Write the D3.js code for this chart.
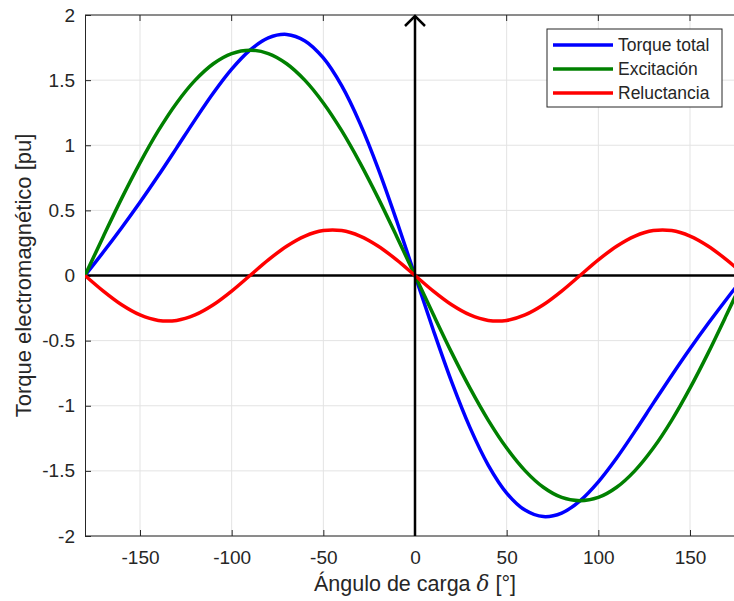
<!DOCTYPE html>
<html lang="es">
<head>
<meta charset="utf-8">
<title>Torque electromagnético</title>
<script src="https://cdn.jsdelivr.net/npm/d3@7"></script>
<style>
  body { margin: 0; background: #fff; }
  svg text { font-family: Arial, "Liberation Sans", Helvetica, sans-serif; fill: #262626; }
  .grid line { stroke: #e3e3e3; stroke-width: 1; }
</style>
</head>
<body>
<script>
// load angle (degrees), read every 10 degrees
var delta = [-180,-170,-160,-150,-140,-130,-120,-110,-100,-90,-80,-70,-60,-50,-40,-30,-20,-10,
             0,10,20,30,40,50,60,70,80,90,100,110,120,130,140,150,160,170,180];

var totalTorque = [0,0.180,0.367,0.562,0.767,0.980,1.195,1.401,1.584,1.730,1.824,1.851,1.801,1.670,1.457,1.168,0.817,0.420,
                   0,-0.420,-0.817,-1.168,-1.457,-1.670,-1.801,-1.851,-1.824,-1.730,-1.584,-1.401,-1.195,-0.980,-0.767,-0.562,-0.367,-0.180,0];

var excitation = [0,0.300,0.592,0.865,1.112,1.325,1.498,1.626,1.704,1.730,1.704,1.626,1.498,1.325,1.112,0.865,0.592,0.300,
                  0,-0.300,-0.592,-0.865,-1.112,-1.325,-1.498,-1.626,-1.704,-1.730,-1.704,-1.626,-1.498,-1.325,-1.112,-0.865,-0.592,-0.300,0];

var reluctance = [0,-0.120,-0.225,-0.303,-0.345,-0.345,-0.303,-0.225,-0.120,0,0.120,0.225,0.303,0.345,0.345,0.303,0.225,0.120,
                  0,-0.120,-0.225,-0.303,-0.345,-0.345,-0.303,-0.225,-0.120,0,0.120,0.225,0.303,0.345,0.345,0.303,0.225,0.120,0];

var xTicks = [-150,-100,-50,0,50,100,150];
var yTicks = [-2,-1.5,-1,-0.5,0,0.5,1,1.5,2];

var series = [
  {name: "Torque total", values: totalTorque, color: "#0000ff"},
  {name: "Excitación", values: excitation, color: "#008000"},
  {name: "Reluctancia", values: reluctance, color: "#ff0000"}
];

var w = 734, h = 601;
var pLeft = 85, pTop = 15, pBottom = 536;

var svg = d3.select("body").append("svg")
  .attr("width", w)
  .attr("height", h);

// x reaches 180 beyond the right edge (picture is cut at ~175)
var xScale = d3.scaleLinear().domain([-180, 180]).range([pLeft, 745]);
var yScale = d3.scaleLinear().domain([-2, 2]).range([pBottom, pTop]);

// grid
var grid = svg.append("g").attr("class", "grid");
grid.selectAll(".gx").data(xTicks).enter().append("line")
  .attr("x1", d => xScale(d)).attr("x2", d => xScale(d))
  .attr("y1", pTop).attr("y2", pBottom);
grid.selectAll(".gy").data(yTicks).enter().append("line")
  .attr("x1", pLeft).attr("x2", w)
  .attr("y1", d => yScale(d)).attr("y2", d => yScale(d));

// axes (ticks pointing inward like matlab)
var xAxis = d3.axisBottom(xScale).tickValues(xTicks).tickSizeInner(-6).tickSizeOuter(0).tickPadding(15);
var yAxis = d3.axisLeft(yScale).tickValues(yTicks).tickSizeInner(-6).tickSizeOuter(0).tickPadding(10)
  .tickFormat(d => String(d));

var gx = svg.append("g").attr("transform", "translate(0," + pBottom + ")").call(xAxis);
var gy = svg.append("g").attr("transform", "translate(" + pLeft + ",0)").call(yAxis);
[gx, gy].forEach(function(g) {
  g.select(".domain").attr("stroke", "#262626").attr("stroke-width", 1);
  g.selectAll(".tick line").attr("stroke", "#262626");
  g.selectAll(".tick text").attr("font-size", "19px").attr("fill", "#262626")
    .text(function(d) { return String(d).replace("\u2212", "-"); });
});
gx.select(".domain").attr("d", "M" + pLeft + ",0H" + w);

// top border line
svg.append("line")
  .attr("x1", pLeft).attr("x2", w)
  .attr("y1", pTop).attr("y2", pTop)
  .attr("stroke", "#262626").attr("stroke-width", 1);
svg.selectAll(".toptick").data(xTicks).enter().append("line")
  .attr("x1", d => xScale(d)).attr("x2", d => xScale(d))
  .attr("y1", pTop).attr("y2", pTop + 6)
  .attr("stroke", "#262626");

// curves
var line = d3.line()
  .x(function(d, i) { return xScale(delta[i]); })
  .y(function(d) { return yScale(d); })
  .curve(d3.curveCatmullRom);

svg.append("clipPath").attr("id", "plotclip")
  .append("rect").attr("x", pLeft).attr("y", pTop - 5).attr("width", w - pLeft).attr("height", pBottom - pTop + 10);

var plot = svg.append("g").attr("clip-path", "url(#plotclip)");

// black reference axis (horizontal)
plot.append("line")
  .attr("x1", pLeft).attr("x2", w)
  .attr("y1", yScale(0)).attr("y2", yScale(0))
  .attr("stroke", "#000").attr("stroke-width", 2.5);

plot.selectAll(".curve").data(series).enter().append("path")
  .attr("class", "curve")
  .attr("d", d => line(d.values))
  .attr("fill", "none")
  .attr("stroke", d => d.color)
  .attr("stroke-width", 3.5);

// vertical arrow at delta = 0
svg.append("line")
  .attr("x1", xScale(0)).attr("x2", xScale(0))
  .attr("y1", pBottom).attr("y2", pTop + 1)
  .attr("stroke", "#000").attr("stroke-width", 2.5);
svg.append("path")
  .attr("d", "M" + (xScale(0) - 10) + "," + (pTop + 11) + "L" + xScale(0) + "," + (pTop + 1) + "L" + (xScale(0) + 10) + "," + (pTop + 11))
  .attr("fill", "none").attr("stroke", "#000").attr("stroke-width", 2.5);

// legend
var lg = svg.append("g").attr("transform", "translate(547,29)");
lg.append("rect")
  .attr("width", 175).attr("height", 78)
  .attr("fill", "#fff").attr("stroke", "#262626").attr("stroke-width", 1);
var items = lg.selectAll(".item").data(series).enter().append("g")
  .attr("transform", (d, i) => "translate(0," + (16 + i * 24) + ")");
items.append("line")
  .attr("x1", 6).attr("x2", 66)
  .attr("stroke", d => d.color).attr("stroke-width", 3.5);
items.append("text")
  .attr("x", 71).attr("y", 6)
  .attr("font-size", "17.5px")
  .attr("fill", "#000")
  .text(d => d.name);

// axis labels
svg.append("text")
  .attr("x", xScale(0)).attr("y", 591)
  .attr("text-anchor", "middle")
  .attr("font-size", "21.5px")
  .html("Ángulo de carga <tspan font-family='DejaVu Serif, Liberation Serif, serif' font-style='italic'>δ</tspan> [°]");

svg.append("text")
  .attr("transform", "translate(31," + ((pTop + pBottom) / 2) + ") rotate(-90)")
  .attr("text-anchor", "middle")
  .attr("font-size", "22px")
  .text("Torque electromagnético [pu]");
</script>
</body>
</html>
